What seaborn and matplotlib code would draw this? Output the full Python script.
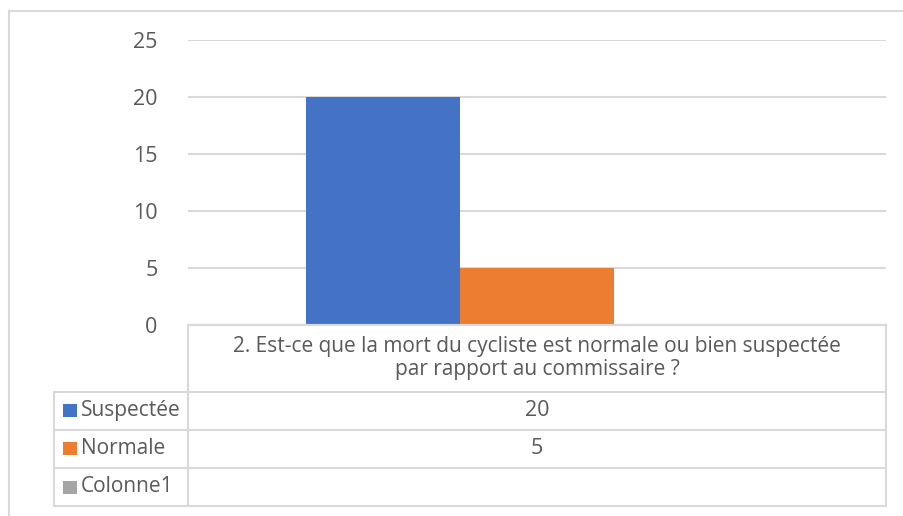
import numpy as np
import pandas as pd
import seaborn as sns
import matplotlib.pyplot as plt
from matplotlib.patches import Rectangle
from matplotlib.lines import Line2D

question = "2. Est-ce que la mort du cycliste est normale ou bien suspectée\npar rapport au commissaire ?"
series = ["Suspectée", "Normale", "Colonne1"]
values = [20, 5, np.nan]
colors = ["#4472C4", "#ED7D31", "#A5A5A5"]
yticks = [0, 5, 10, 15, 20, 25]

W, H = 904, 516
grey = "#d9d9d9"
txt = "#595959"
font = "Open Sans"

sns.set_style("white")
plt.rcParams['font.family'] = [font, 'DejaVu Sans']

df = pd.DataFrame({"question": [question] * len(series), "serie": series, "value": values})

fig = plt.figure(figsize=(W / 100, H / 100), dpi=100)


def fx(x):
    return x / W


def fy(y):
    return 1 - y / H


# chart area border (cropped on right and bottom)
fig.patches.append(Rectangle((fx(9), fy(600)), 1, fy(10.5) - fy(600), transform=fig.transFigure,
                             fill=False, edgecolor=grey, lw=1.5))

ax = fig.add_axes([fx(188), fy(325), fx(886) - fx(188), fy(40) - fy(325)])
sns.barplot(data=df, x="question", y="value", hue="serie", hue_order=series, palette=colors,
            saturation=1, width=0.663, linewidth=0, ax=ax, legend=False)
ax.set_xlim(-0.5, 0.5)
ax.set_ylim(0, 25)
ax.set_yticks(yticks)
ax.set_xticks([])
ax.set_xlabel("")
ax.set_ylabel("")
ax.yaxis.grid(True, color=grey, lw=1.5)
ax.set_axisbelow(True)
for s in ["top", "right", "left"]:
    ax.spines[s].set_visible(False)
ax.spines["bottom"].set_color(grey)
ax.spines["bottom"].set_linewidth(1.5)
ax.tick_params(axis="y", length=0, pad=22, labelsize=15.5, labelcolor=txt)

# data table
x_left, x_mid, x_right = 54, 188, 886
rows = [325, 391.5, 429.5, 468, 506]


def hline(y, x0, x1):
    fig.lines.append(Line2D([fx(x0), fx(x1)], [fy(y), fy(y)], transform=fig.transFigure, color=grey, lw=1.5))


def vline(x, y0, y1):
    fig.lines.append(Line2D([fx(x), fx(x)], [fy(y0), fy(y1)], transform=fig.transFigure, color=grey, lw=1.5))


hline(rows[0], x_mid, x_right)
for y in rows[1:]:
    hline(y, x_left, x_right)
vline(x_mid, rows[0], rows[-1])
vline(x_right, rows[0], rows[-1])
vline(x_left, rows[1], rows[-1])

xc = (x_mid + x_right) / 2
fig.text(fx(xc), fy((rows[0] + rows[1]) / 2), question, ha="center", va="center",
         fontsize=15, color=txt, linespacing=1.15)
for i, (name, val, col) in enumerate(zip(series, values, colors)):
    yc = (rows[i + 1] + rows[i + 2]) / 2
    fig.patches.append(Rectangle((fx(63), fy(yc + 6.5)), fx(14), fy(0) - fy(13), transform=fig.transFigure,
                                 facecolor=col, edgecolor="none"))
    fig.text(fx(81), fy(yc), name, ha="left", va="center", fontsize=15, color=txt)
    if not np.isnan(val):
        fig.text(fx(xc), fy(yc), f"{val:g}", ha="center", va="center", fontsize=15.5, color=txt)

plt.savefig("out.png", dpi=100)
